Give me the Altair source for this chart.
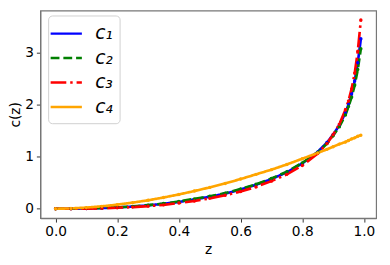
import altair as alt
import pandas as pd

z = [0.0, 0.05, 0.1, 0.15, 0.2, 0.25, 0.3, 0.35, 0.4, 0.45, 0.5, 0.55, 0.6, 0.65,
     0.7, 0.75, 0.8, 0.85, 0.88, 0.9, 0.92, 0.94, 0.95, 0.96, 0.97, 0.98, 0.99]
c1 = [0.0, 0.002, 0.006, 0.014, 0.026, 0.042, 0.065, 0.095, 0.13, 0.18, 0.23, 0.29,
      0.37, 0.46, 0.57, 0.70, 0.87, 1.09, 1.27, 1.42, 1.60, 1.84, 2.00, 2.20, 2.45, 2.80, 3.26]
c2 = [0.0, 0.002, 0.007, 0.015, 0.028, 0.045, 0.07, 0.10, 0.14, 0.19, 0.24, 0.30,
      0.38, 0.47, 0.58, 0.71, 0.88, 1.08, 1.25, 1.40, 1.57, 1.80, 1.96, 2.14, 2.37, 2.67, 3.07]
c3 = [0.0, 0.001, 0.004, 0.010, 0.019, 0.032, 0.05, 0.075, 0.11, 0.15, 0.20, 0.26,
      0.33, 0.42, 0.53, 0.66, 0.83, 1.06, 1.25, 1.42, 1.62, 1.90, 2.07, 2.30, 2.60, 3.02, 3.62]
c4 = [0.0, 0.007, 0.023, 0.047, 0.079, 0.118, 0.163, 0.216, 0.275, 0.34, 0.41, 0.486,
      0.57, 0.66, 0.75, 0.85, 0.96, 1.07, 1.14, 1.19, 1.24, 1.28, 1.31, 1.34, 1.36, 1.39, 1.41]

names = ["c₁", "c₂", "c₃", "c₄"]
colors = ["#0000ff", "#008000", "#ff0000", "#ffa500"]
dashes = [[1, 0], [9, 4], [16, 4, 2.5, 4], [1, 0]]

rows = []
for name, vals in zip(names, [c1, c2, c3, c4]):
    for zi, vi in zip(z, vals):
        rows.append({"z": zi, "c": vi, "series": name})
df = pd.DataFrame(rows)

xs = alt.Scale(domain=[-0.0495, 1.0395], nice=False, zero=False)
ys = alt.Scale(domain=[-0.18, 3.8], nice=False, zero=False)

legend = alt.Legend(
    title=None, orient="none", legendX=8, legendY=5,
    symbolType="M-1.45,0L1.45,0", symbolSize=484, symbolStrokeWidth=2.5,
    labelFont="DejaVu Sans", labelFontSize=19, labelFontStyle="italic",
    labelColor="#000", rowPadding=2, padding=6,
    strokeColor="#d0d0d0", fillColor="white", cornerRadius=4,
    labelOffset=17,
)

chart = alt.Chart(df).mark_line(
    strokeWidth=2.7,
    point=alt.OverlayMarkDef(filled=True, size=12, opacity=1),
).encode(
    x=alt.X("z:Q", scale=xs, title="z",
            axis=alt.Axis(values=[0, 0.2, 0.4, 0.6, 0.8, 1.0], format=".1f")),
    y=alt.Y("c:Q", scale=ys, title="c(z)",
            axis=alt.Axis(values=[0, 1, 2, 3], format="d")),
    color=alt.Color("series:N", scale=alt.Scale(domain=names, range=colors), legend=legend),
    strokeDash=alt.StrokeDash("series:N", scale=alt.Scale(domain=names, range=dashes), legend=legend),
    order=alt.Order("z:Q"),
).properties(
    width=343, height=212,
    autosize=alt.AutoSizeParams(type="none"),
    padding={"left": 33, "top": 0, "right": 6, "bottom": 37},
).configure_view(
    stroke="#777", strokeWidth=1.2,
).configure_axis(
    domain=True, domainColor="#777", domainWidth=1.2,
    grid=False, ticks=True, tickColor="#333", tickSize=4,
    labelFont="DejaVu Sans", labelFontSize=14, labelColor="#000",
    titleFont="DejaVu Sans", titleFontSize=14, titleFontWeight="normal", titleColor="#000",
    labelPadding=3,
).configure_axisY(titlePadding=2)

chart.save("out.html", embed_options={"renderer": "svg", "actions": False})
